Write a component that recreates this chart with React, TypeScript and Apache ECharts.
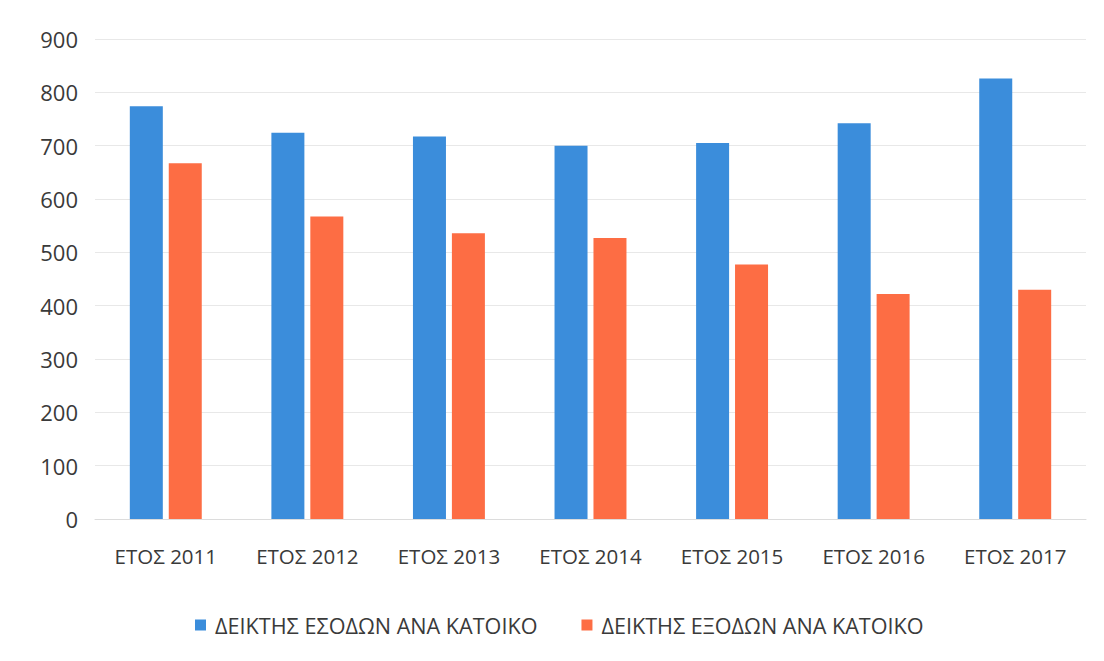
import React, { useEffect, useRef } from "react";
import * as echarts from "echarts";

const categories = ["ΕΤΟΣ 2011", "ΕΤΟΣ 2012", "ΕΤΟΣ 2013", "ΕΤΟΣ 2014", "ΕΤΟΣ 2015", "ΕΤΟΣ 2016", "ΕΤΟΣ 2017"];
const incomeValues = [774, 724, 717, 700, 705, 742, 826];
const expenseValues = [667, 567, 536, 527, 477, 422, 430];
const seriesNames = ["ΔΕΙΚΤΗΣ ΕΣΟΔΩΝ ΑΝΑ ΚΑΤΟΙΚΟ", "ΔΕΙΚΤΗΣ ΕΞΟΔΩΝ ΑΝΑ ΚΑΤΟΙΚΟ"];

const FONT = "'Open Sans', 'Noto Sans', sans-serif";

export default function App() {
  const ref = useRef<HTMLDivElement>(null);
  useEffect(() => {
    if (!ref.current) return;
    const chart = echarts.init(ref.current, null, { renderer: "svg" });
    chart.setOption({
      animation: false,
      backgroundColor: "#ffffff",
      textStyle: { fontFamily: FONT },
      grid: { left: 95, right: 18, top: 39, bottom: 142, containLabel: false },
      legend: {
        bottom: 20,
        left: 190,
        itemWidth: 11,
        itemHeight: 11,
        itemGap: 44,
        icon: "rect",
        textStyle: { fontSize: 21.6, color: "#3a3a3a", fontFamily: FONT, padding: [0, 0, 0, 4] },
        data: seriesNames,
      },
      xAxis: {
        type: "category",
        data: categories,
        axisLine: { show: true, lineStyle: { color: "#dcdcdc" } },
        axisTick: { show: false },
        axisLabel: { fontSize: 20.5, color: "#3a3a3a", margin: 26, fontFamily: FONT },
      },
      yAxis: {
        type: "value",
        min: 0,
        max: 900,
        interval: 100,
        axisLine: { show: false },
        axisTick: { show: false },
        axisLabel: { fontSize: 22, color: "#3a3a3a", margin: 17, fontFamily: FONT },
        splitLine: { lineStyle: { color: "#e8e8e8" } },
      },
      series: [
        {
          name: seriesNames[0],
          type: "bar",
          data: incomeValues,
          barWidth: 33,
          barGap: "18%",
          itemStyle: { color: "#3b8ddb" },
        },
        {
          name: seriesNames[1],
          type: "bar",
          data: expenseValues,
          barWidth: 33,
          itemStyle: { color: "#fd6d44" },
        },
      ],
    });
    return () => chart.dispose();
  }, []);
  return (
    <div
      ref={ref}
      style={{ position: "fixed", left: 0, top: 0, width: 1104, height: 661 }}
    />
  );
}
